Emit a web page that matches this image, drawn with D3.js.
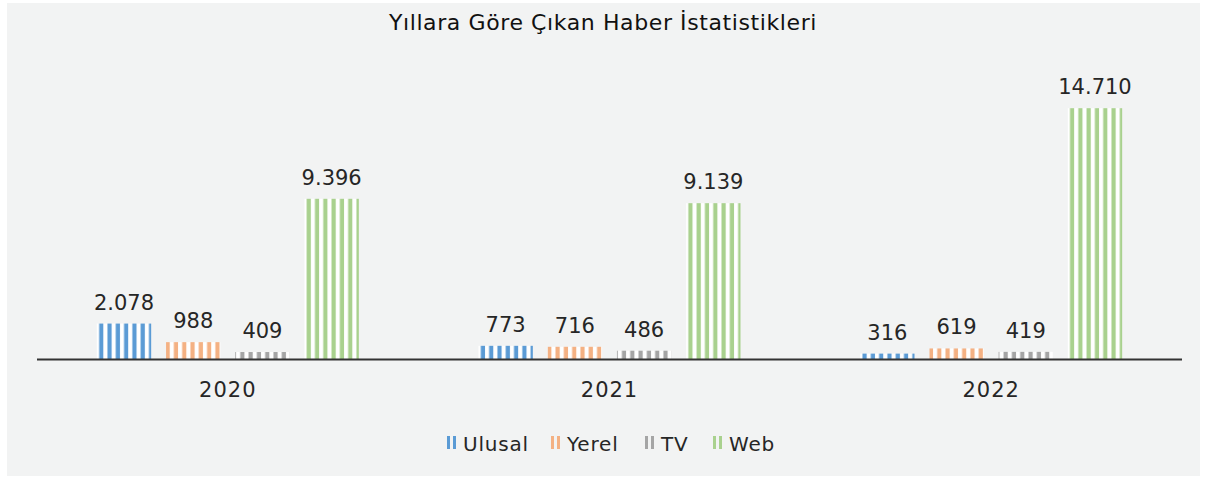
<!DOCTYPE html>
<html>
<head>
<meta charset="utf-8">
<script src="https://cdn.jsdelivr.net/npm/d3@7"></script>
<style>
  body { margin: 0; background: #fff; }
  text { font-family: "DejaVu Sans", sans-serif; fill: #262626; }
</style>
</head>
<body>
<svg id="chart" width="1205" height="479"></svg>
<script>
var years = ["2020", "2021", "2022"];
var seriesNames = ["Ulusal", "Yerel", "TV", "Web"];
var colors = ["#5b9bd5", "#f4b183", "#a5a5a5", "#a9d18e"];
var ulusal = [2078, 773, 316];
var yerel = [988, 716, 619];
var tv = [409, 486, 419];
var web = [9396, 9139, 14710];

var seriesValues = [ulusal, yerel, tv, web];
var fmt = d3.formatLocale({ decimal: ",", thousands: ".", grouping: [3], currency: ["", ""] }).format(",d");

var svg = d3.select("#chart");

// background panel
svg.append("rect")
    .attr("x", 7).attr("y", 3)
    .attr("width", 1193).attr("height", 473)
    .style("fill", "#f2f3f3");

var baseline = 359;

var x0 = d3.scaleBand().domain(years).range([37, 1182]);
var x1 = d3.scaleBand().domain(seriesNames).range([0, 262]).paddingInner(0.215);
var y = d3.scaleLinear().domain([0, 16000]).range([baseline, baseline - 272.8]);

// stripe patterns
var defs = svg.append("defs");
seriesNames.forEach(function(s, i) {
    var p = defs.append("pattern")
        .attr("id", "stripe" + i)
        .attr("patternUnits", "userSpaceOnUse")
        .attr("width", 8.3).attr("height", 8);
    p.append("rect").attr("width", 8.3).attr("height", 8).style("fill", "#fff");
    p.append("rect").attr("x", 2.3).attr("width", 4.2).attr("height", 8).style("fill", colors[i]);
});

function rows(d, yi) {
    return seriesNames.map(function(s, si) {
        return { series: s, si: si, value: seriesValues[si][yi] };
    });
}

var groups = svg.append("g").selectAll("g.year")
    .data(years)
    .join("g")
    .classed("year", true)
    .attr("transform", function(d) { return "translate(" + (x0(d) + x0.bandwidth() / 2 - 131) + ",0)"; });

groups.selectAll("rect.bar")
    .data(rows)
    .join("rect")
    .classed("bar", true)
    .attr("x", function(d) { return x1(d.series); })
    .attr("y", function(d) { return y(d.value); })
    .attr("width", x1.bandwidth())
    .attr("height", function(d) { return baseline - y(d.value); })
    .style("fill", function(d) { return "url(#stripe" + d.si + ")"; });

groups.selectAll("text.val")
    .data(rows)
    .join("text")
    .classed("val", true)
    .attr("x", function(d) { return x1(d.series) + x1.bandwidth() / 2; })
    .attr("y", function(d) { return y(d.value) - 14; })
    .attr("text-anchor", "middle")
    .style("font-size", "21px")
    .text(function(d) { return fmt(d.value); });

// axis line
svg.append("line")
    .attr("x1", 37).attr("x2", 1182)
    .attr("y1", baseline + 0.5).attr("y2", baseline + 0.5)
    .style("stroke", "#333")
    .style("stroke-width", "1.8px");

// category labels
svg.append("g").selectAll("text.cat")
    .data(years)
    .join("text")
    .classed("cat", true)
    .attr("x", function(d) { return x0(d) + x0.bandwidth() / 2; })
    .attr("y", 397)
    .attr("text-anchor", "middle")
    .style("font-size", "21px")
    .style("letter-spacing", "1px")
    .text(function(d) { return d; });

// title
svg.append("text")
    .attr("x", 603).attr("y", 30)
    .attr("text-anchor", "middle")
    .style("font-size", "22px")
    .style("letter-spacing", "0.6px")
    .style("fill", "#111")
    .text("Yıllara Göre Çıkan Haber İstatistikleri");

// legend
var legendX = [445, 549, 643, 711];
var legend = svg.append("g").selectAll("g.leg")
    .data(seriesNames)
    .join("g")
    .classed("leg", true)
    .attr("transform", function(d, i) { return "translate(" + legendX[i] + ",436)"; });

legend.append("rect").attr("x", 2).attr("width", 3).attr("height", 13)
    .style("fill", function(d, i) { return colors[i]; });
legend.append("rect").attr("x", 8).attr("width", 3).attr("height", 13)
    .style("fill", function(d, i) { return colors[i]; });
legend.append("text")
    .attr("x", 18).attr("y", 15)
    .style("font-size", "20px")
    .style("letter-spacing", "0.8px")
    .text(function(d) { return d; });
</script>
</body>
</html>
